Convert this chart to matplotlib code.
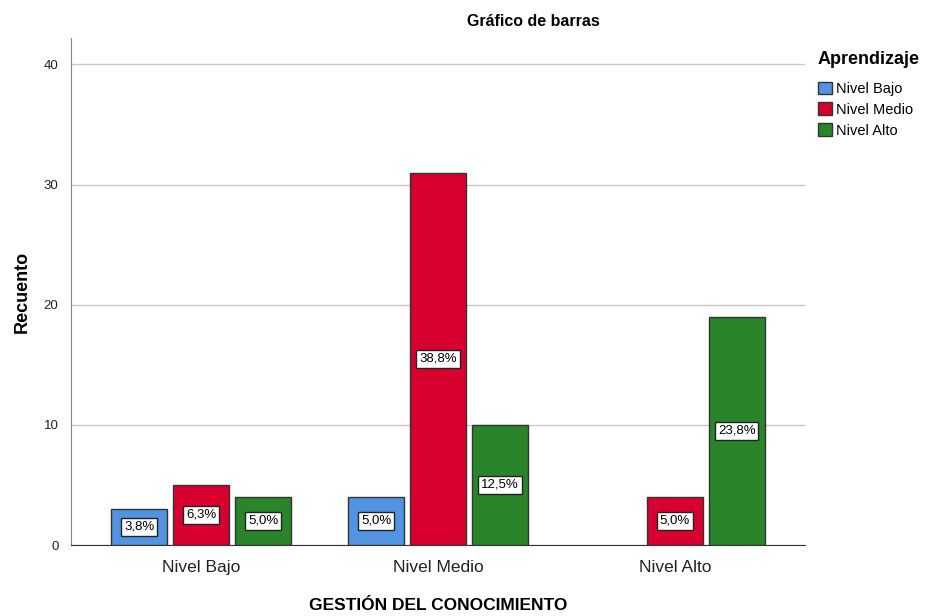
import matplotlib.pyplot as plt
import numpy as np
from matplotlib.patches import Patch

plt.rcParams['font.family'] = ['Liberation Sans', 'DejaVu Sans']

categories = ['Nivel Bajo', 'Nivel Medio', 'Nivel Alto']
series = ['Nivel Bajo', 'Nivel Medio', 'Nivel Alto']
bajo = [3, 4, 0]
medio = [5, 31, 4]
alto = [4, 10, 19]
colors = ['#5294E2', '#D7002F', '#2A842A']

values = [bajo, medio, alto]
total = sum(sum(v) for v in values)

fig = plt.figure(figsize=(9.33, 6.16), dpi=100)
ax = fig.add_axes([71 / 933, 1 - 545 / 616, 734 / 933, 507 / 616])

x = np.arange(len(categories))
width = 0.236
step = 0.2616

for i, (vals, col) in enumerate(zip(values, colors)):
    pos = x + (i - 1) * step
    for p, v in zip(pos, vals):
        if v == 0:
            continue
        ax.bar(p, v, width=width, color=col, edgecolor='#333333', linewidth=1, zorder=3)
        pct = int(v / total * 1000 + 0.5) / 10
        ax.text(p, v / 2, f'{pct:.1f}%'.replace('.', ','), ha='center', va='center',
                fontsize=9.5, zorder=4,
                bbox=dict(boxstyle='square,pad=0.22', facecolor='white', edgecolor='#222222', linewidth=1))

ax.set_xlim(-0.55, 2.55)
ax.set_ylim(0, 42.2)
ax.set_yticks([0, 10, 20, 30, 40])
ax.set_xticks(x)
ax.set_xticklabels(categories, fontsize=12.5, color='#222222')
ax.tick_params(axis='y', labelsize=9.5, length=0, pad=9, colors='#222222')
ax.tick_params(axis='x', length=0, pad=11)
ax.yaxis.grid(True, color='#C8C8C8', linewidth=1, zorder=0)
ax.set_axisbelow(True)
for s in ['top', 'right']:
    ax.spines[s].set_visible(False)
ax.spines['left'].set_color('#888888')
ax.spines['bottom'].set_color('#333333')

ax.set_ylabel('Recuento', fontsize=13, fontweight='bold', labelpad=9)
fig.text(438 / 933, 1 - 605 / 616, 'GESTIÓN DEL CONOCIMIENTO', ha='center', va='center',
         fontsize=12.5, fontweight='bold')
fig.text(533 / 933, 1 - 22 / 616, 'Gráfico de barras', ha='center', va='center',
         fontsize=11.5, fontweight='bold')

handles = [Patch(facecolor=c, edgecolor='#333333', label=s) for c, s in zip(colors, series)]
leg = fig.legend(handles=handles, title='Aprendizaje', loc='upper left',
                 bbox_to_anchor=(806 / 933, 1 - 39 / 616), frameon=False,
                 fontsize=10.5, title_fontproperties={'weight': 'bold', 'size': 13},
                 handlelength=0.95, handleheight=0.95, handletextpad=0.3, labelspacing=0.45,
                 alignment='left', borderpad=0.3)
leg._legend_box.sep = 10

fig.savefig('out.png', dpi=100)
